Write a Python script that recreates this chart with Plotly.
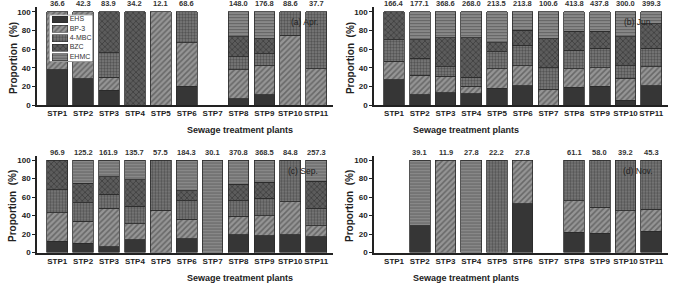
import plotly.graph_objects as go

# ---------------- data ----------------
stp = ["STP1", "STP2", "STP3", "STP4", "STP5", "STP6", "STP7", "STP8", "STP9", "STP10", "STP11"]
compounds = ["EHS", "BP-3", "4-MBC", "BZC", "EHMC"]

apr_ehs  = [38, 28, 16, 0, 0, 20, 0, 7, 11, 0, 0]
apr_bp3  = [62, 72, 14, 0, 100, 47, 0, 31, 31, 75, 39]
apr_mbc  = [0, 0, 26, 0, 0, 33, 0, 14, 13, 25, 61]
apr_bzc  = [0, 0, 44, 100, 0, 0, 0, 21, 16, 0, 0]
apr_ehmc = [0, 0, 0, 0, 0, 0, 0, 27, 29, 0, 0]
apr_tot  = [36.6, 42.3, 83.9, 34.2, 12.1, 68.6, None, 148.0, 176.8, 88.6, 37.7]

jun_ehs  = [27, 11, 13, 12, 18, 21, 0, 19, 20, 5, 21]
jun_bp3  = [20, 21, 18, 8, 21, 21, 17, 20, 20, 24, 20]
jun_mbc  = [23, 18, 10, 10, 18, 22, 23, 20, 21, 13, 20]
jun_bzc  = [30, 20, 31, 42, 10, 16, 31, 20, 18, 31, 26]
jun_ehmc = [0, 30, 28, 28, 33, 20, 29, 21, 21, 27, 13]
jun_tot  = [166.4, 177.1, 368.6, 268.0, 213.5, 213.8, 100.6, 413.8, 437.8, 300.0, 399.3]

sep_ehs  = [12, 10, 6, 14, 0, 15, 0, 19, 18, 19, 17]
sep_bp3  = [31, 24, 42, 17, 46, 21, 0, 20, 22, 36, 12]
sep_mbc  = [25, 20, 15, 19, 54, 20, 0, 17, 19, 45, 19]
sep_bzc  = [32, 21, 19, 29, 0, 11, 0, 18, 17, 0, 29]
sep_ehmc = [0, 25, 18, 21, 0, 33, 100, 26, 24, 0, 23]
sep_tot  = [96.9, 125.2, 161.9, 135.7, 57.5, 184.3, 30.1, 370.8, 368.5, 84.8, 257.3]

nov_ehs  = [0, 29, 0, 0, 0, 53, 0, 22, 21, 0, 23]
nov_bp3  = [0, 0, 100, 0, 0, 47, 0, 34, 28, 45, 24]
nov_mbc  = [0, 0, 0, 0, 100, 0, 0, 44, 51, 55, 53]
nov_bzc  = [0, 0, 0, 0, 0, 0, 0, 0, 0, 0, 0]
nov_ehmc = [0, 71, 0, 100, 0, 0, 0, 0, 0, 0, 0]
nov_tot  = [None, 39.1, 11.9, 27.8, 22.2, 27.8, None, 61.1, 58.0, 39.2, 45.3]

panel_labels = ["(a) Apr.", "(b) Jun.", "(c) Sep.", "(d) Nov."]
yticks = [0, 20, 40, 60, 80, 100]

panels = [
    ([apr_ehs, apr_bp3, apr_mbc, apr_bzc, apr_ehmc], apr_tot),
    ([jun_ehs, jun_bp3, jun_mbc, jun_bzc, jun_ehmc], jun_tot),
    ([sep_ehs, sep_bp3, sep_mbc, sep_bzc, sep_ehmc], sep_tot),
    ([nov_ehs, nov_bp3, nov_mbc, nov_bzc, nov_ehmc], nov_tot),
]

# ---------------- styles ----------------
W, H = 675, 286
FONT = "Liberation Sans, Arial, sans-serif"
TXT = "#222222"

styles = {
    "EHS":   dict(color="#363636", pattern=dict(shape="", fgcolor="#363636", bgcolor="#363636")),
    "BP-3":  dict(color="#8e8e8e", pattern=dict(shape="/", fgcolor="#3c3c3c", bgcolor="#959595", size=4, solidity=0.4)),
    "4-MBC": dict(color="#6e6e6e", pattern=dict(shape=".", fgcolor="#262626", bgcolor="#7e7e7e", size=3, solidity=0.5)),
    "BZC":   dict(color="#4c4c4c", pattern=dict(shape="x", fgcolor="#262626", bgcolor="#5c5c5c", size=4, solidity=0.4)),
    "EHMC":  dict(color="#7c7c7c", pattern=dict(shape="-", fgcolor="#333333", bgcolor="#939393", size=3, solidity=0.5)),
}

def px_x(p):
    return p / W

def px_y(p):
    return 1 - p / H

# panel geometry in pixels: (x_left, x_right, y_top_of_range, y_zero)
geo = [
    (37, 333, 7.25, 107),
    (374, 668, 7.25, 107),
    (37, 333, 158.3, 257),
    (374, 668, 158.3, 257),
]

fig = go.Figure()
layout = dict(
    width=W, height=H, margin=dict(l=0, r=0, t=0, b=0),
    paper_bgcolor="white", plot_bgcolor="white",
    barmode="stack", bargap=0.2, showlegend=False,
    font=dict(family=FONT, color=TXT),
)
annotations = []
shapes = []

for i, (series, totals) in enumerate(panels):
    n = i + 1
    xa = "x" if n == 1 else f"x{n}"
    ya = "y" if n == 1 else f"y{n}"
    xl, xr, yt, y0 = geo[i]
    for name, vals in zip(compounds, series):
        st = styles[name]
        fig.add_trace(go.Bar(
            x=stp, y=[v if v else None for v in vals], name=name, xaxis=xa, yaxis=ya,
            marker=dict(color=st["color"], pattern=st["pattern"],
                        line=dict(color="#2a2a2a", width=0.8)),
        ))
    xkey = "xaxis" if n == 1 else f"xaxis{n}"
    ykey = "yaxis" if n == 1 else f"yaxis{n}"
    layout[xkey] = dict(
        domain=[px_x(xl), px_x(xr)], anchor=ya, type="category",
        range=[-0.78, 10.65], showgrid=False, zeroline=False,
        showline=True, linecolor="#222", linewidth=1.5, ticks="", tickangle=0,
        tickfont=dict(size=8, weight="bold", color=TXT, family=FONT),
    )
    layout[ykey] = dict(
        domain=[px_y(y0), px_y(yt)], anchor=xa, range=[0, 105],
        tickvals=yticks, showgrid=False, zeroline=False,
        showline=True, linecolor="#222", linewidth=1.5,
        ticks="outside", ticklen=3, tickwidth=1, tickcolor="#222",
        tickfont=dict(size=8, weight="bold", color=TXT, family=FONT),
    )
    # totals above bars
    for s, t in zip(stp, totals):
        if t is None:
            continue
        annotations.append(dict(
            x=s, y=100, xref=xa, yref=ya, text=f"{t:.1f}", showarrow=False,
            yanchor="bottom", yshift=1.5,
            font=dict(size=7.5, weight="bold", color="#333", family=FONT),
        ))
    # panel label
    annotations.append(dict(
        x=px_x(xr - 13), y=px_y(yt + 15.5), xref="paper", yref="paper",
        text=panel_labels[i], showarrow=False, xanchor="right", yanchor="middle",
        font=dict(size=8.5, color="#222", family=FONT),
    ))
    # axis titles
    annotations.append(dict(
        x=px_x((xl + xr) / 2), y=px_y(y0 + 25.5), xref="paper", yref="paper",
        text="Sewage treatment plants", showarrow=False, yanchor="middle",
        font=dict(size=9, weight="bold", color=TXT, family=FONT),
    ))
    annotations.append(dict(
        x=px_x(xl - 24), y=px_y((y0 + yt + 4) / 2), xref="paper", yref="paper",
        text="Proportion  (%)", showarrow=False, textangle=-90,
        xanchor="center", yanchor="middle",
        font=dict(size=10, weight="bold", color=TXT, family=FONT),
    ))

# ---------------- legend inset (panel a) ----------------
leg_x = [49, 93]
leg_y = [15, 63]
for name in compounds:
    st = styles[name]
    fig.add_trace(go.Bar(
        y=[name], x=[0.36], base=[0.07], orientation="h", xaxis="x5", yaxis="y5",
        width=0.72,
        marker=dict(color=st["color"], pattern=st["pattern"],
                    line=dict(color="#2a2a2a", width=0.6)),
    ))
fig.add_trace(go.Scatter(
    x=[0.47] * len(compounds), y=compounds, mode="text", text=compounds,
    textposition="middle right", xaxis="x5", yaxis="y5", cliponaxis=False,
    textfont=dict(size=7, color="#333", family=FONT),
))
layout["xaxis5"] = dict(domain=[px_x(leg_x[0]), px_x(leg_x[1])], anchor="y5",
                        range=[0, 1], visible=False, fixedrange=True)
layout["yaxis5"] = dict(domain=[px_y(leg_y[1]), px_y(leg_y[0])], anchor="x5",
                        type="category", categoryorder="array", categoryarray=compounds,
                        range=[4.5, -0.5], visible=False, fixedrange=True)
shapes.append(dict(type="rect", xref="x5", yref="y5", x0=0, x1=1, y0=-0.5, y1=4.5,
                   layer="below", fillcolor="white", line=dict(color="#333", width=0.8)))

layout["annotations"] = annotations
layout["shapes"] = shapes
fig.update_layout(**layout)
fig.write_html("out.html")
